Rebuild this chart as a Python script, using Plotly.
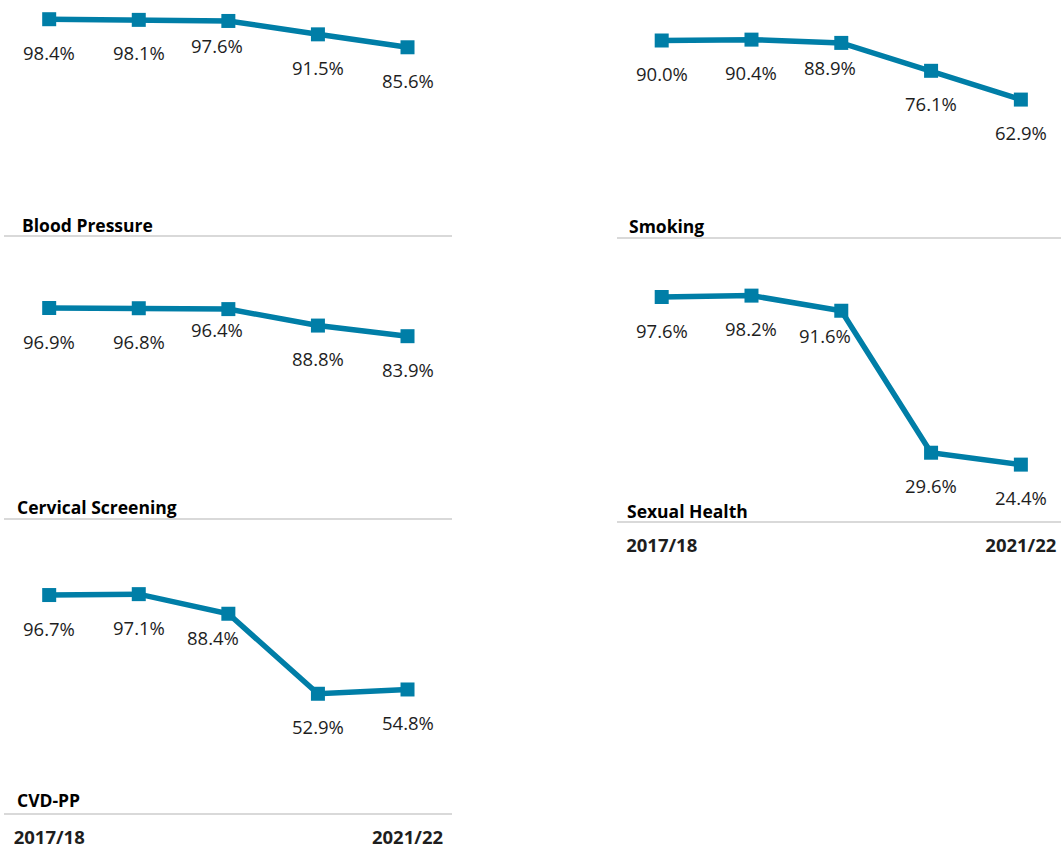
import plotly.graph_objects as go

# Financial years shown on every panel
years = ["2017/18", "2018/19", "2019/20", "2020/21", "2021/22"]

# Percentage of eligible patients with the check recorded, per year
blood_pressure = [98.4, 98.1, 97.6, 91.5, 85.6]
smoking = [90.0, 90.4, 88.9, 76.1, 62.9]
cervical_screening = [96.9, 96.8, 96.4, 88.8, 83.9]
sexual_health = [97.6, 98.2, 91.6, 29.6, 24.4]
cvd_pp = [96.7, 97.1, 88.4, 52.9, 54.8]

panel_titles = ["Blood Pressure", "Smoking", "Cervical Screening", "Sexual Health", "CVD-PP"]
panel_values = [blood_pressure, smoking, cervical_screening, sexual_health, cvd_pp]

W, H = 1061, 850
LINE_COLOR = "#007EA7"
TEXT_COLOR = "#1e1e1e"
FONT = "Open Sans"

# Column geometry in pixels: (left edge, right edge, x-range max)
columns = [
    (4.4, 452.3, 4.5),
    (616.8, 1061.0, 4.447),
]

# Per panel layout: column, pixel top (100%), pixel bottom (0%), title offset,
# whether the year axis labels are shown, and nudge for the crowded third label
panels = [
    dict(col=0, top=15.7, bottom=235.0, tdx=16, tdy=10.5, years=False, nudge=(-11, 8)),
    dict(col=1, top=18.7, bottom=236.7, tdx=10, tdy=10.5, years=False, nudge=(-11, 8)),
    dict(col=0, top=301.3, bottom=518.0, tdx=11, tdy=11.5, years=False, nudge=(-11, 13)),
    dict(col=1, top=291.5, bottom=520.5, tdx=8, tdy=9.5, years=True, nudge=(-16, 8)),
    dict(col=0, top=587.6, bottom=813.0, tdx=11, tdy=13, years=True, nudge=(-15, 9)),
]

LABEL_DROP = 33  # pixels from marker centre down to label centre

fig = go.Figure()
annotations = []
layout = {}

for k, (title, values, p) in enumerate(zip(panel_titles, panel_values, panels), start=1):
    xa = "x" if k == 1 else f"x{k}"
    ya = "y" if k == 1 else f"y{k}"
    x_left, x_right, x_max = columns[p["col"]]

    fig.add_trace(go.Scatter(
        x=list(range(len(years))),
        y=values,
        xaxis=xa,
        yaxis=ya,
        mode="lines+markers",
        line=dict(color=LINE_COLOR, width=5.5),
        marker=dict(symbol="square", size=14, color=LINE_COLOR),
        cliponaxis=False,
        hovertemplate="%{text}: %{y:.1f}%<extra></extra>",
        text=years,
    ))

    layout["xaxis" if k == 1 else f"xaxis{k}"] = dict(
        domain=[x_left / W, x_right / W],
        range=[-0.5, x_max],
        anchor=ya,
        showgrid=False,
        zeroline=False,
        showline=True,
        linecolor="#d9d9d9",
        linewidth=2,
        ticks="outside",
        ticklen=7,
        tickcolor="rgba(0,0,0,0)",
        tickmode="array",
        tickvals=[0, len(years) - 1] if p["years"] else [],
        ticktext=[years[0], years[-1]] if p["years"] else [],
        tickfont=dict(family=FONT, size=18.5, color=TEXT_COLOR, weight="bold"),
        automargin=False,
        fixedrange=True,
    )
    layout["yaxis" if k == 1 else f"yaxis{k}"] = dict(
        domain=[1 - p["bottom"] / H, 1 - p["top"] / H],
        range=[0, 100],
        anchor=xa,
        visible=False,
        fixedrange=True,
    )

    # value labels under each marker
    for i, v in enumerate(values):
        dx, dy = (p["nudge"][0], p["nudge"][1]) if i == 2 else (0, 0)
        annotations.append(dict(
            x=i, y=v, xref=xa, yref=ya,
            text=f"{v:.1f}%",
            showarrow=False,
            xanchor="center", yanchor="middle",
            xshift=dx, yshift=-LABEL_DROP + dy,
            font=dict(family=FONT, size=18.5, color=TEXT_COLOR),
        ))

    # panel title sitting on the baseline
    annotations.append(dict(
        x=0, y=0, xref=f"{xa} domain", yref=f"{ya} domain",
        text=f"<b>{title}</b>",
        showarrow=False,
        xanchor="left", yanchor="middle",
        xshift=p["tdx"], yshift=p["tdy"],
        font=dict(family=FONT, size=17.5, color="#000000"),
    ))

fig.update_layout(
    **layout,
    annotations=annotations,
    width=W,
    height=H,
    margin=dict(l=0, r=0, t=0, b=0),
    paper_bgcolor="white",
    plot_bgcolor="white",
    showlegend=False,
)

fig.write_html("out.html")
